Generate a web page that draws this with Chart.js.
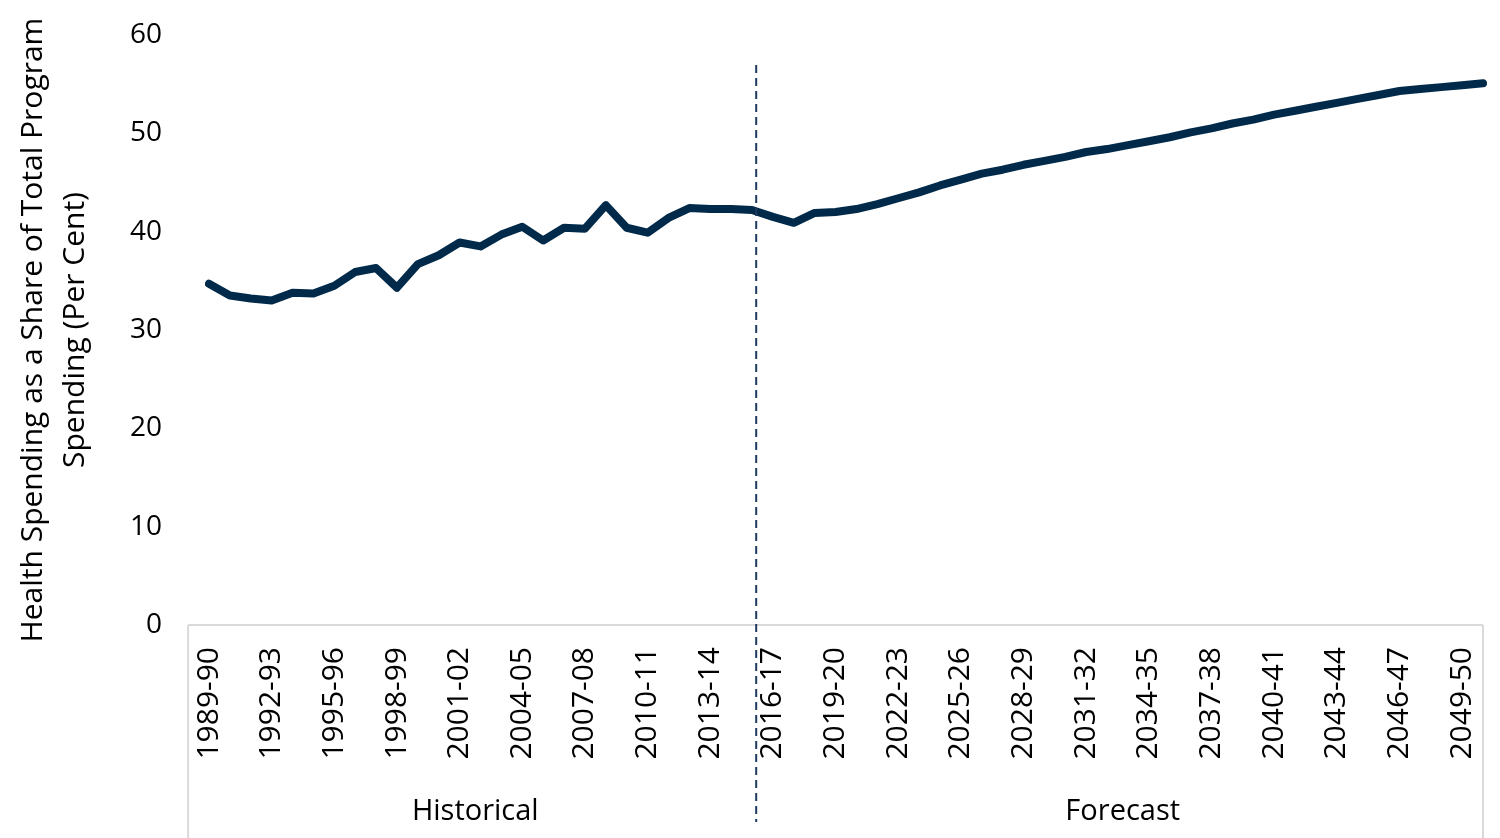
<!DOCTYPE html>
<html>
<head>
<meta charset="utf-8">
<script src="https://cdn.jsdelivr.net/npm/chart.js@4.4.1/dist/chart.umd.min.js"></script>
<style>
  html, body { margin: 0; padding: 0; background: #fff; }
  #wrap { width: 1500px; height: 838px; }
</style>
</head>
<body>
<div id="wrap"><canvas id="chart" width="1500" height="838"></canvas></div>
<script>
const years = [
  "1989-90","1990-91","1991-92","1992-93","1993-94","1994-95","1995-96","1996-97","1997-98","1998-99",
  "1999-00","2000-01","2001-02","2002-03","2003-04","2004-05","2005-06","2006-07","2007-08","2008-09",
  "2009-10","2010-11","2011-12","2012-13","2013-14","2014-15","2015-16","2016-17","2017-18","2018-19",
  "2019-20","2020-21","2021-22","2022-23","2023-24","2024-25","2025-26","2026-27","2027-28","2028-29",
  "2029-30","2030-31","2031-32","2032-33","2033-34","2034-35","2035-36","2036-37","2037-38","2038-39",
  "2039-40","2040-41","2041-42","2042-43","2043-44","2044-45","2045-46","2046-47","2047-48","2048-49",
  "2049-50","2050-51"
];

// health spending share of program spending, per cent
const healthShare = [
  34.7, 33.5, 33.2, 33.0, 33.8, 33.7, 34.5, 35.9, 36.3, 34.3,
  36.7, 37.6, 38.9, 38.5, 39.7, 40.5, 39.1, 40.4, 40.3, 42.7,
  40.4, 39.9, 41.4, 42.4, 42.3, 42.3, 42.2, 41.5, 40.9, 41.9,
  42.0, 42.3, 42.8, 43.4, 44.0, 44.7, 45.3, 45.9, 46.3, 46.8,
  47.2, 47.6, 48.1, 48.4, 48.8, 49.2, 49.6, 50.1, 50.5, 51.0,
  51.4, 51.9, 52.3, 52.7, 53.1, 53.5, 53.9, 54.3, 54.5, 54.7,
  54.9, 55.1
];

const groupNames = ["Historical", "Forecast"];
const groupSizes = [27, 35];
const yTicks = [0, 10, 20, 30, 40, 50, 60];

const FONT = "'Open Sans', 'Noto Sans', sans-serif";
const NAVY = "#012a4a";

// frame under the x axis, group labels and the historical/forecast divider
const groupAxis = {
  id: "groupAxis",
  afterDraw(chart) {
    const ctx = chart.ctx;
    const x = chart.scales.x;
    const y0 = chart.scales.y.getPixelForValue(0);
    const left = x.getPixelForValue(-1);
    const right = x.getPixelForValue(years.length - 1);
    const bottom = chart.height;

    ctx.save();
    ctx.strokeStyle = "#d9d9d9";
    ctx.lineWidth = 2;
    ctx.beginPath();
    ctx.moveTo(left, y0);
    ctx.lineTo(right, y0);
    ctx.moveTo(left, y0);
    ctx.lineTo(left, bottom);
    ctx.moveTo(right, y0);
    ctx.lineTo(right, bottom);
    ctx.stroke();

    // group labels
    ctx.fillStyle = "#000";
    ctx.font = "29px " + FONT;
    ctx.textAlign = "center";
    ctx.textBaseline = "middle";
    let start = -1;
    groupSizes.forEach((n, i) => {
      const a = i === 0 ? left : x.getPixelForValue(start - 0.5);
      const end = start + n;
      const b = i === groupSizes.length - 1 ? right : x.getPixelForValue(end + 0.5);
      ctx.fillText(groupNames[i], (a + b) / 2, 812);
      start = end + 1;
    });

    // dashed divider
    const split = groupSizes[0] - 1;
    const dx = x.getPixelForValue(split) + 0.2 * (x.getPixelForValue(split + 1) - x.getPixelForValue(split));
    ctx.strokeStyle = "#1f3a5f";
    ctx.lineWidth = 2;
    ctx.setLineDash([8, 5]);
    ctx.beginPath();
    ctx.moveTo(dx, 65);
    ctx.lineTo(dx, 822);
    ctx.stroke();
    ctx.restore();
  }
};

new Chart(document.getElementById("chart"), {
  type: "line",
  data: {
    labels: years,
    datasets: [{
      data: healthShare,
      borderColor: NAVY,
      borderWidth: 8,
      pointRadius: 0,
      tension: 0,
      borderCapStyle: "round",
      borderJoinStyle: "round",
      fill: false
    }]
  },
  options: {
    responsive: false,
    animation: false,
    layout: { padding: { top: 35, right: 17, left: 0, bottom: 0 } },
    plugins: {
      legend: { display: false },
      tooltip: { enabled: false }
    },
    scales: {
      x: {
        offset: false,
        grid: { display: false, drawTicks: false },
        border: { display: false },
        ticks: {
          autoSkip: false,
          minRotation: 90,
          maxRotation: 90,
          padding: 22,
          color: "#000",
          font: { family: FONT, size: 30 },
          callback: (v, i) => (i % 3 === 0 ? years[i] : "")
        },
        afterFit: s => { s.height = 213; s.paddingLeft = 0; s.paddingRight = 0; }
      },
      y: {
        min: 0,
        max: 60,
        afterBuildTicks: s => { s.ticks = yTicks.map(v => ({ value: v })); },
        grid: { display: false, drawTicks: false },
        border: { display: false },
        ticks: {
          padding: 47,
          color: "#000",
          font: { family: FONT, size: 28 }
        },
        title: {
          display: true,
          text: ["Health Spending as a Share of Total Program", "Spending (Per Cent)"],
          color: "#000",
          font: { family: FONT, size: 30, lineHeight: 1.4 },
          padding: { top: 12, bottom: 0 }
        },
        afterFit: s => { s.width = 209; s.paddingTop = 0; s.paddingBottom = 0; }
      }
    }
  },
  plugins: [groupAxis]
});
</script>
</body>
</html>
